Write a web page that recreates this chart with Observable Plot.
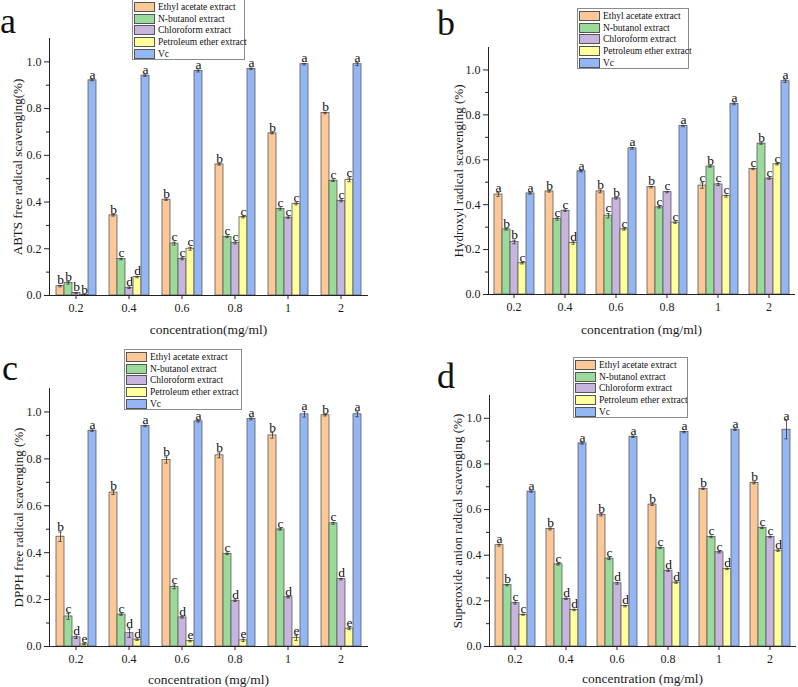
<!DOCTYPE html>
<html><head><meta charset="utf-8">
<script src="https://cdn.jsdelivr.net/npm/d3@7"></script>
<script src="https://cdn.jsdelivr.net/npm/@observablehq/plot@0.6"></script>
<style>
body{margin:0;background:#fff;}
#root{position:relative;width:798px;height:687px;overflow:hidden;font-family:"Liberation Serif","Times New Roman",serif;color:#111;}
.panel{position:absolute;}
.tag{position:absolute;font-size:36px;line-height:36px;}
.legend{position:absolute;border:1px solid #8c8c8c;background:#fff;box-sizing:border-box;padding:1px 0 0 1px;font-size:9.5px;white-space:nowrap;}
.row{display:flex;align-items:center;height:11.7px;}
.sw{width:21px;height:10px;box-sizing:border-box;border:1px solid #555;margin-right:3px;flex:none;}
</style></head>
<body><div id="root"></div>
<script>
const concentrations = ["0.2","0.4","0.6","0.8","1","2"];
const seriesNames = ["Ethyl acetate extract","N-butanol extract","Chloroform extract","Petroleum ether extract","Vc"];
const seriesColors = ["#FDC897","#9ADA9A","#C7B5DE","#FFFF9C","#94B6F5"];
const yTicks = [0, 0.2, 0.4, 0.6, 0.8, 1.0];
const yMinorTicks = [0.1, 0.3, 0.5, 0.7, 0.9];

// panel a: ABTS (rows = series, columns = concentrations)
const abtsValues = [
  [0.040,0.343,0.410,0.561,0.694,0.781],
  [0.054,0.156,0.222,0.251,0.370,0.491],
  [0.011,0.033,0.157,0.225,0.333,0.405],
  [0.002,0.079,0.200,0.335,0.392,0.495],
  [0.921,0.941,0.961,0.970,0.990,0.990]
];
const abtsErrors = [
  [0.003,0.003,0.003,0.003,0.002,0.003],
  [0.005,0.003,0.006,0.003,0.004,0.003],
  [0.002,0.003,0.004,0.004,0.003,0.004],
  [0.001,0.003,0.006,0.003,0.004,0.008],
  [0.002,0.003,0.004,0.003,0.003,0.006]
];
const abtsLetters = ["bbbba","bcdda","bccca","bccca","bccca","bccca"];

// panel b: hydroxyl
const ohValues = [
  [0.445,0.459,0.459,0.478,0.485,0.559],
  [0.290,0.336,0.351,0.388,0.570,0.672],
  [0.234,0.373,0.428,0.456,0.490,0.516],
  [0.139,0.229,0.290,0.320,0.438,0.580],
  [0.450,0.549,0.651,0.750,0.849,0.950]
];
const ohErrors = [
  [0.008,0.003,0.006,0.003,0.012,0.003],
  [0.003,0.005,0.010,0.003,0.003,0.003],
  [0.008,0.003,0.003,0.003,0.005,0.003],
  [0.003,0.005,0.003,0.003,0.004,0.003],
  [0.003,0.003,0.004,0.003,0.004,0.006]
];
const ohLetters = ["abbca","bccda","bcbca","bccca","cbcca","cbcca"];

// panel c: DPPH
const dpphValues = [
  [0.468,0.656,0.795,0.815,0.900,0.986],
  [0.128,0.136,0.254,0.395,0.499,0.525],
  [0.039,0.057,0.124,0.195,0.210,0.287],
  [0.009,0.029,0.023,0.026,0.036,0.076],
  [0.920,0.940,0.960,0.970,0.990,0.990]
];
const dpphErrors = [
  [0.020,0.008,0.013,0.010,0.012,0.003],
  [0.012,0.003,0.008,0.003,0.003,0.004],
  [0.005,0.018,0.003,0.003,0.003,0.003],
  [0.002,0.003,0.003,0.005,0.010,0.004],
  [0.003,0.003,0.003,0.004,0.012,0.010]
];
const dpphLetters = ["bcdea","bcdda","bcdea","bcdea","bcdea","bcdea"];

// panel d: superoxide anion
const soValues = [
  [0.444,0.515,0.577,0.622,0.691,0.717],
  [0.269,0.360,0.385,0.432,0.480,0.520],
  [0.190,0.209,0.277,0.332,0.413,0.480],
  [0.139,0.160,0.177,0.280,0.340,0.420],
  [0.679,0.890,0.919,0.940,0.950,0.950]
];
const soErrors = [
  [0.004,0.004,0.005,0.004,0.003,0.004],
  [0.003,0.003,0.004,0.003,0.003,0.003],
  [0.004,0.003,0.004,0.003,0.003,0.003],
  [0.002,0.003,0.003,0.003,0.003,0.003],
  [0.003,0.003,0.003,0.003,0.003,0.040]
];
const soLetters = ["abcca","bcdda","bcdda","bcdda","bccda","bccda"];

const panels = [
  {tag:"a", values:abtsValues, errors:abtsErrors, letters:abtsLetters,
   yLabel:"ABTS free radical scavenging(%)", xLabel:"concentration(mg/ml)",
   left:0, top:0, width:399, height:343, mt:38, mb:48, ml:48, mr:32, yOff:37, xOff:38,
   tagPos:[0,3], legendPos:[132,-1,113,61]},
  {tag:"b", values:ohValues, errors:ohErrors, letters:ohLetters,
   yLabel:"Hydroxyl radical scavenging (%)", xLabel:"concentration (mg/ml)",
   left:400, top:0, width:398, height:343, mt:47, mb:49, ml:88, mr:4, yOff:35, xOff:39,
   tagPos:[437,5], legendPos:[577,8,112,61]},
  {tag:"c", values:dpphValues, errors:dpphErrors, letters:dpphLetters,
   yLabel:"DPPH free radical scavenging (%)", xLabel:"concentration (mg/ml)",
   left:0, top:343, width:399, height:344, mt:45, mb:41, ml:48, mr:32, yOff:36, xOff:37.5,
   tagPos:[2,350], legendPos:[124,349,118,61]},
  {tag:"d", values:soValues, errors:soErrors, letters:soLetters,
   yLabel:"Superoxide anion radical scavenging (%)", xLabel:"concentration (mg/ml)",
   left:400, top:343, width:398, height:344, mt:52, mb:41, ml:87, mr:1, yOff:37, xOff:36.5,
   tagPos:[437,358], legendPos:[573,357,115,61]}
];

const root = document.getElementById("root");

for (const p of panels) {
  const rows = [];
  concentrations.forEach((c, j) => {
    seriesNames.forEach((s, i) => {
      rows.push({conc: c, series: s, value: p.values[i][j], err: p.errors[i][j], letter: p.letters[j][i]});
    });
  });
  const fnt = "Liberation Serif, Times New Roman, serif";
  const chart = Plot.plot({
    width: p.width, height: p.height,
    marginTop: p.mt, marginBottom: p.mb, marginLeft: p.ml, marginRight: p.mr,
    style: {fontFamily: fnt, fontSize: "12px", color: "#1a1a1a", background: "transparent", overflow: "visible"},
    fx: {domain: concentrations, padding: 0},
    x: {domain: seriesNames, paddingInner: 0, paddingOuter: 0.6, axis: null},
    y: {domain: [0, 1.1]},
    color: {domain: seriesNames, range: seriesColors},
    marks: [
      Plot.barY(rows, {fx: "conc", x: "series", y: "value", fill: "series", stroke: "#5a5a5a", strokeWidth: 0.8}),
      Plot.ruleX(rows, {fx: "conc", x: "series", y1: d => d.value - d.err, y2: d => d.value + d.err, stroke: "#333", strokeWidth: 0.8}),
      Plot.tickY(rows, {fx: "conc", x: "series", y: d => d.value + d.err, insetLeft: 2.3, insetRight: 2.3, stroke: "#333", strokeWidth: 0.8}),
      Plot.tickY(rows, {fx: "conc", x: "series", y: d => d.value - d.err, insetLeft: 2.3, insetRight: 2.3, stroke: "#333", strokeWidth: 0.8}),
      Plot.text(rows, {fx: "conc", x: "series", y: d => d.value + d.err, text: "letter", lineAnchor: "bottom", dy: -1, fontSize: 13.5, fontFamily: fnt, fill: "#111"}),
      Plot.frame({facet: "super", anchor: "bottom", stroke: "#222", strokeWidth: 1}),
      Plot.frame({facet: "super", anchor: "left", stroke: "#222", strokeWidth: 1}),
      Plot.axisY({ticks: yTicks, tickFormat: d3.format(".1f"), tickSize: 5, tickPadding: 3, label: null, stroke: "#222", fontSize: 12, fontFamily: fnt}),
      Plot.axisY({ticks: yMinorTicks, tickSize: 3, text: null, label: null, stroke: "#222"}),
      Plot.axisY({ticks: [], tickSize: 0, text: null, label: p.yLabel, labelArrow: "none", labelAnchor: "center", labelOffset: p.yOff, fontSize: 13, fontFamily: fnt}),
      Plot.axisFx({anchor: "bottom", tickSize: 4, tickPadding: 4, label: null, stroke: "#222", fontSize: 12, fontFamily: fnt}),
      Plot.axisFx({anchor: "bottom", ticks: [], tickSize: 0, text: null, label: p.xLabel, labelArrow: "none", labelAnchor: "center", labelOffset: p.xOff, fontSize: 13.5, fontFamily: fnt})
    ]
  });
  chart.classList.add("panel");
  chart.style.left = p.left + "px";
  chart.style.top = p.top + "px";
  root.appendChild(chart);

  const tag = document.createElement("div");
  tag.className = "tag";
  tag.textContent = p.tag;
  tag.style.left = p.tagPos[0] + "px";
  tag.style.top = p.tagPos[1] + "px";
  root.appendChild(tag);

  const lg = document.createElement("div");
  lg.className = "legend";
  lg.style.left = p.legendPos[0] + "px";
  lg.style.top = p.legendPos[1] + "px";
  lg.style.width = p.legendPos[2] + "px";
  lg.style.height = p.legendPos[3] + "px";
  seriesNames.forEach((s, i) => {
    const r = document.createElement("div");
    r.className = "row";
    const sw = document.createElement("span");
    sw.className = "sw";
    sw.style.background = seriesColors[i];
    const t = document.createElement("span");
    t.textContent = s;
    r.appendChild(sw); r.appendChild(t);
    lg.appendChild(r);
  });
  root.appendChild(lg);
}
</script>
</body></html>
